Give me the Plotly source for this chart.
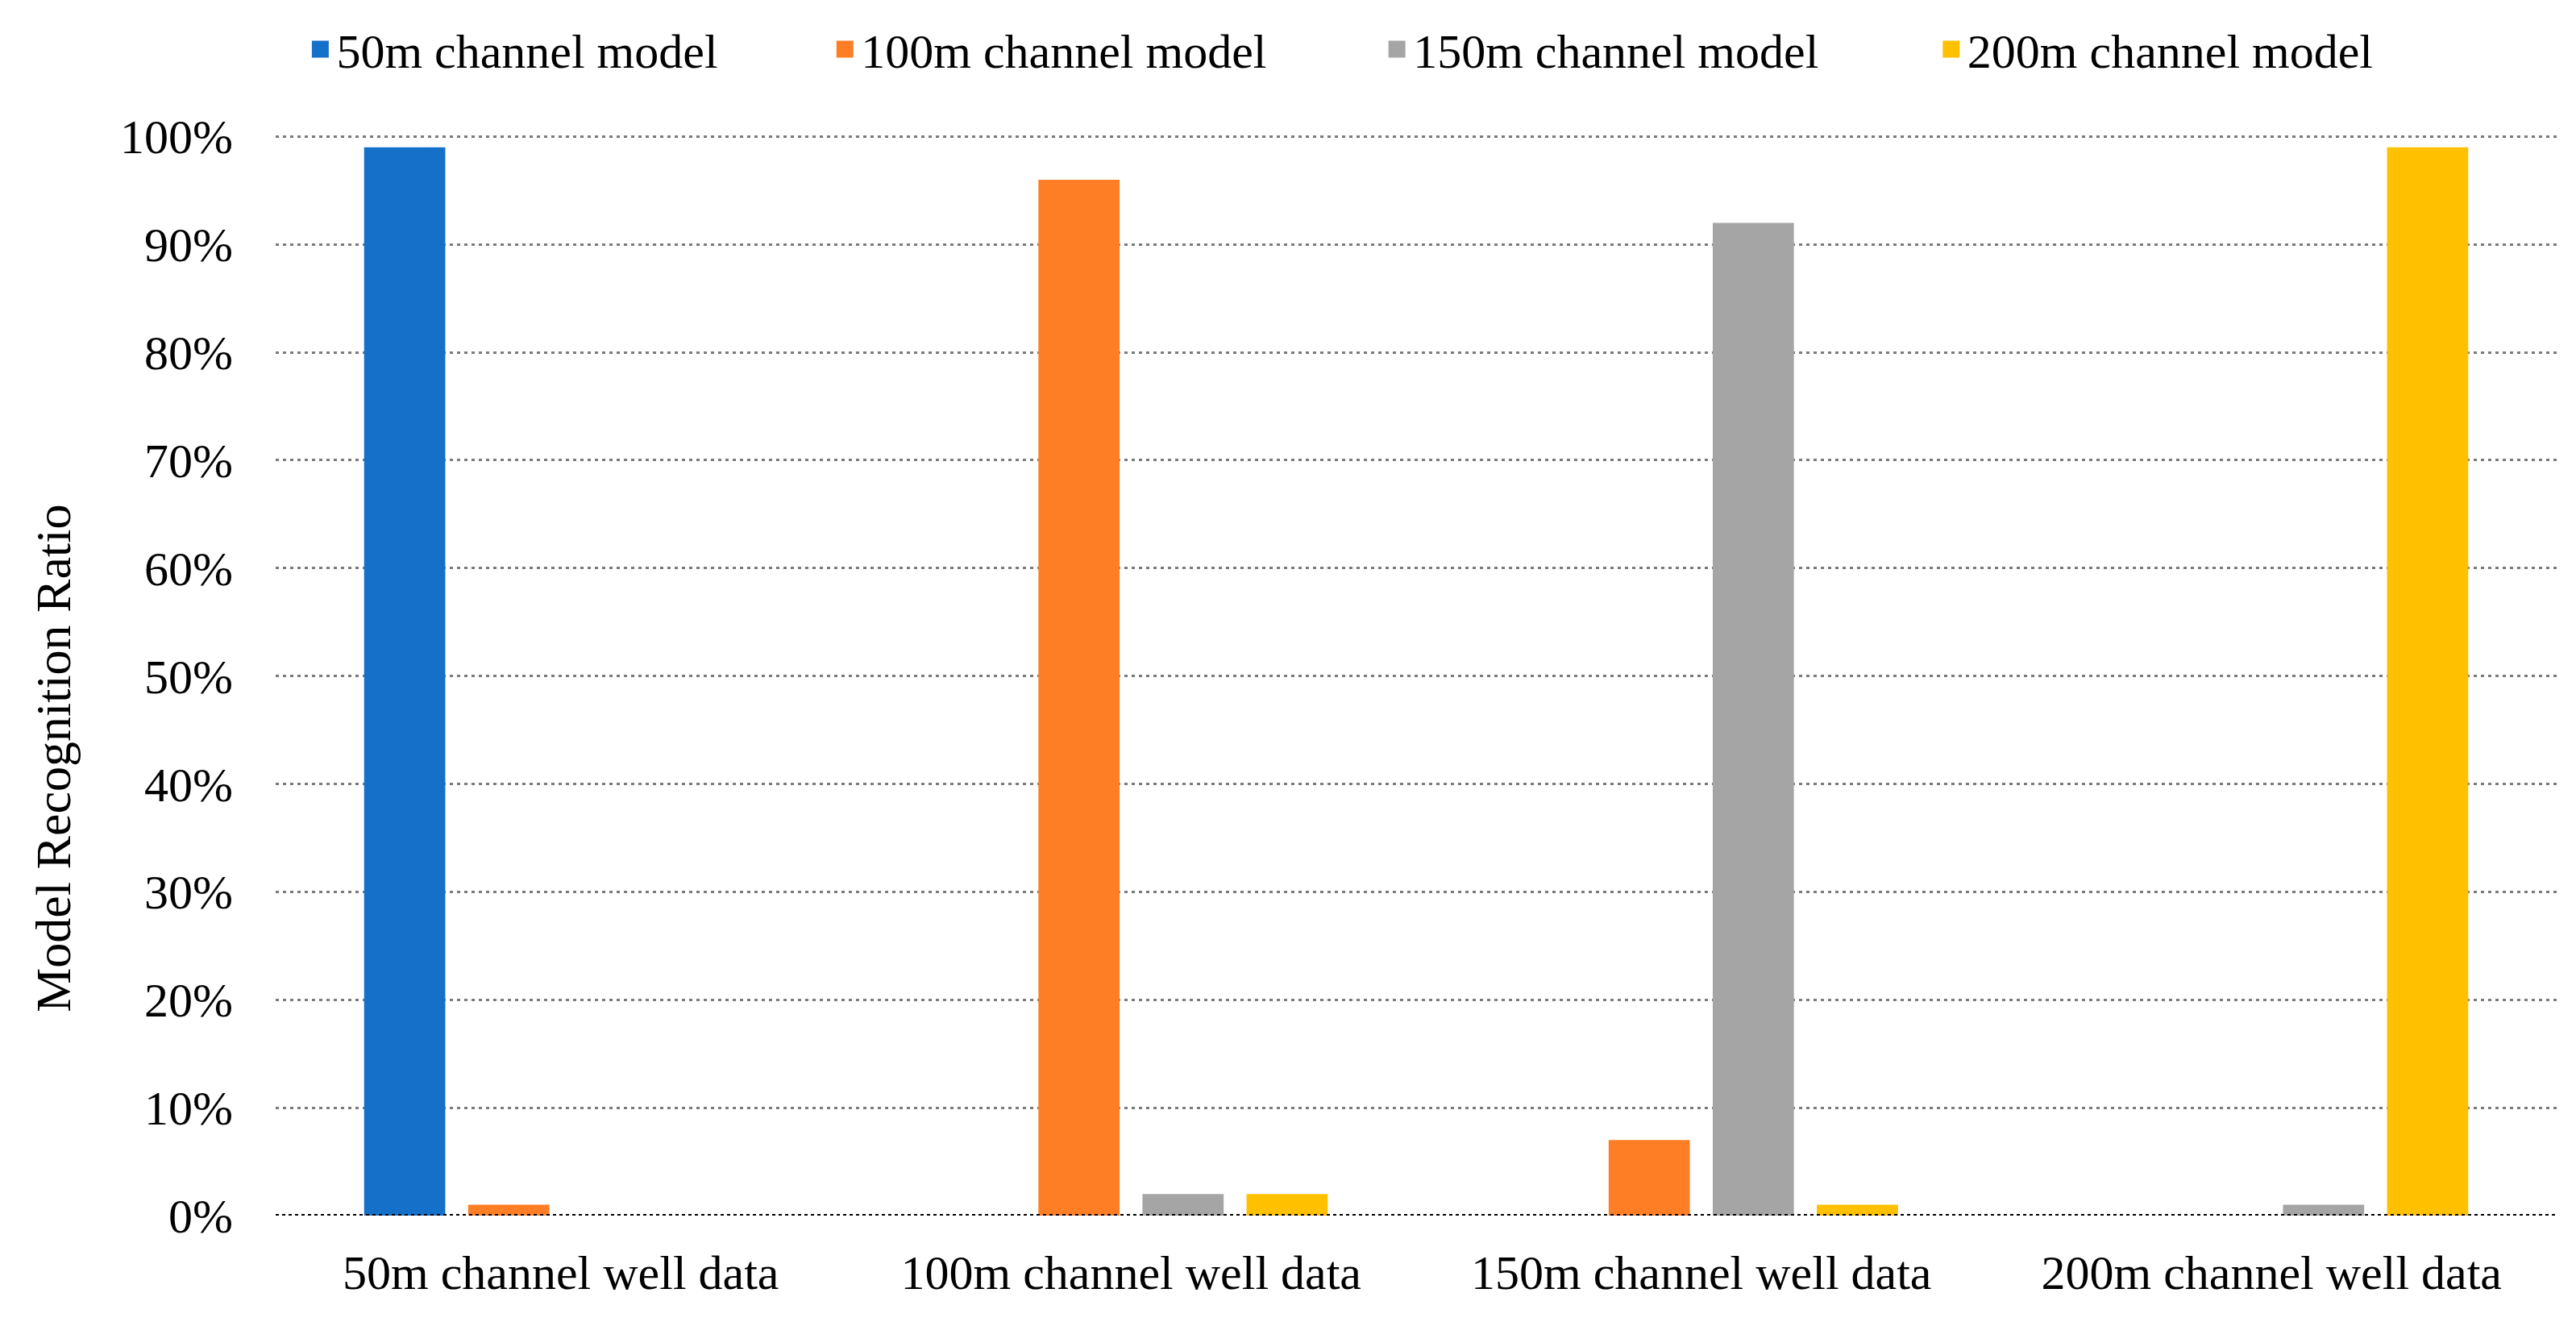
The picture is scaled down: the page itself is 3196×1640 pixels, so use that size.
import plotly.graph_objects as go

categories = ["50m channel well data", "100m channel well data",
              "150m channel well data", "200m channel well data"]
series_names = ["50m channel model", "100m channel model",
                "150m channel model", "200m channel model"]
model_50 = [0.99, 0.00, 0.00, 0.00]
model_100 = [0.01, 0.96, 0.07, 0.00]
model_150 = [0.00, 0.02, 0.92, 0.01]
model_200 = [0.00, 0.02, 0.01, 0.99]
y_ticks = [0, 0.1, 0.2, 0.3, 0.4, 0.5, 0.6, 0.7, 0.8, 0.9, 1.0]
y_ticklabels = ["0%", "10%", "20%", "30%", "40%", "50%", "60%", "70%", "80%", "90%", "100%"]

colors = ["#1570C9", "#FE7E26", "#A5A5A5", "#FFC000"]
series_values = [model_50, model_100, model_150, model_200]
legend_ids = ["legend", "legend2", "legend3", "legend4"]
legend_x = [0.0125, 0.2425, 0.4845, 0.7275]

FONT = "Liberation Serif"
fig = go.Figure()
for name, vals, col in zip(series_names, series_values, colors):
    fig.add_trace(go.Bar(x=categories, y=vals, name=name, marker_color=col,
                         marker_line_width=0, showlegend=False))
for name, col, lid in zip(series_names, colors, legend_ids):
    fig.add_trace(go.Scatter(x=[None], y=[None], mode="markers", name=name, legend=lid,
                             marker=dict(symbol="square", size=16, color=col,
                                         line=dict(color=col, width=5))))

legend_common = dict(orientation="h", xanchor="left", yref="container", y=0.9677,
                     yanchor="middle",
                     font=dict(family=FONT, size=60, color="black"),
                     itemsizing="trace", bgcolor="rgba(0,0,0,0)")
layout_legends = {lid: dict(x=lx, **legend_common) for lid, lx in zip(legend_ids, legend_x)}

fig.update_layout(
    width=3196, height=1640,
    margin=dict(l=334, r=32, t=156, b=140),
    paper_bgcolor="white", plot_bgcolor="white",
    font=dict(family=FONT, size=60, color="black"),
    barmode="group", bargap=0.27, bargroupgap=0.22,
    showlegend=True,
    **layout_legends,
)
fig.update_xaxes(showgrid=False, showline=False, zeroline=False, ticks="",
                 ticklabelstandoff=30, tickfont=dict(family=FONT, size=60, color="black"))
fig.update_yaxes(range=[0, 1.004], tickvals=y_ticks, ticktext=y_ticklabels,
                 showgrid=True, gridcolor="#7a7a7a", gridwidth=3, griddash="4px,5px",
                 zeroline=False, showline=False, ticks="", ticklabelstandoff=52,
                 tickfont=dict(family=FONT, size=60, color="black"))
fig.add_annotation(text="Model Recognition Ratio", textangle=-90,
                   xref="paper", yref="paper", x=(58 - 334) / 2830, y=0.422,
                   xanchor="center", yanchor="middle", showarrow=False,
                   font=dict(family=FONT, size=62, color="black"))
fig.add_shape(type="line", xref="paper", yref="y", x0=0, x1=1, y0=0, y1=0,
              line=dict(color="black", width=4, dash="4px,4px"), layer="above")

fig.write_html("out.html")
